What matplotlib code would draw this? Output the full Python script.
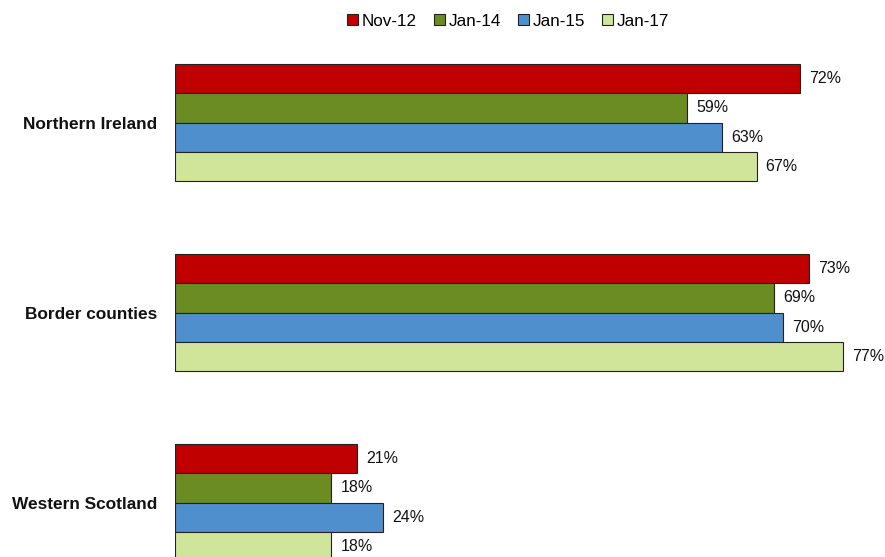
import matplotlib
matplotlib.use("Agg")
import matplotlib.pyplot as plt
import numpy as np

plt.rcParams['font.family'] = ['Liberation Sans', 'DejaVu Sans']

categories = ["Northern Ireland", "Border counties", "Western Scotland"]
series = ["Nov-12", "Jan-14", "Jan-15", "Jan-17"]
values = {
    "Nov-12": [72, 73, 21],
    "Jan-14": [59, 69, 18],
    "Jan-15": [63, 70, 24],
    "Jan-17": [67, 77, 18],
}
colors = ["#C00000", "#6B8C23", "#4F8FCD", "#D0E599"]

W, H = 885, 557
fig = plt.figure(figsize=(W / 100, H / 100), dpi=100)

left_px = 175
px_per_unit = 8.68
group_px = 190.0
first_center_px = 122.5
ax = fig.add_axes([left_px / W, 0, 1 - left_px / W, 1])
ax.set_xlim(0, (W - left_px) / px_per_unit)
ax.set_ylim((H - first_center_px) / group_px, -first_center_px / group_px)

h = 29.3 / group_px
y = np.arange(len(categories))
handles = []
for i, (s, c) in enumerate(zip(series, colors)):
    offs = (i - 1.5) * h
    bars = ax.barh(y + offs, values[s], height=h, color=c, edgecolor="#222222",
                   linewidth=0.8, label=s, clip_on=True)
    ax.bar_label(bars, labels=[f"{v}%" for v in values[s]], padding=6.5,
                 fontsize=11.5, color="#111111")
    handles.append(bars)

ax.set_yticks(y)
ax.set_yticklabels(categories, fontsize=12.4, fontweight="bold", color="#111111")
ax.tick_params(axis="y", length=0, pad=13)
ax.set_xticks([])
for sp in ax.spines.values():
    sp.set_visible(False)

fig.legend(handles=handles, labels=series, loc="center", bbox_to_anchor=(508 / W, 1 - 21 / H),
           ncol=4, frameon=False, fontsize=12.3, handlelength=0.65, handleheight=0.65,
           handletextpad=0.2, columnspacing=1.0, borderaxespad=0)

fig.savefig("out.png", dpi=100)
